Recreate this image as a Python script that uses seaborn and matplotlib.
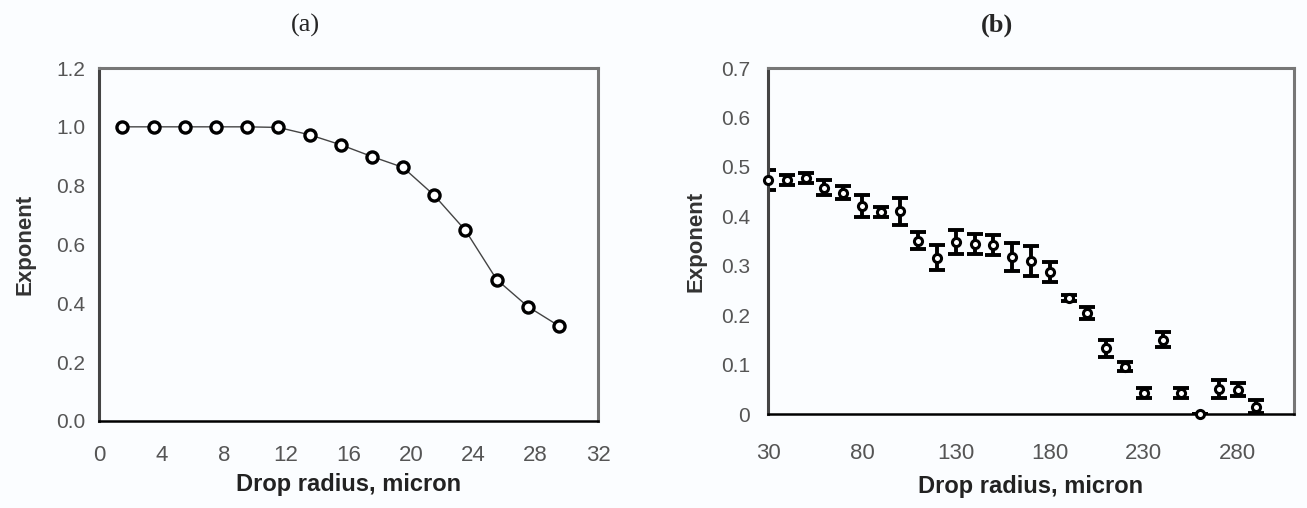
import matplotlib
matplotlib.use("Agg")
import matplotlib.pyplot as plt
import seaborn as sns
import pandas as pd
import numpy as np

# (a) exponent vs drop radius
radius_a = [1.5, 3.5, 5.5, 7.5, 9.5, 11.5, 13.5, 15.5, 17.5, 19.5, 21.5, 23.5, 25.5, 27.5, 29.5]
exponent_a = [1.0, 1.0, 1.0, 1.0, 1.0, 0.998, 0.973, 0.939, 0.899, 0.862, 0.767, 0.648, 0.481, 0.389, 0.323]

# (b) exponent with error bars
radius_b = [30, 40, 50, 60, 70, 80, 90, 100, 110, 120, 130, 140, 150, 160, 170, 180, 190,
            200, 210, 220, 230, 240, 250, 260, 270, 280, 290]
exponent_b = [0.474, 0.473, 0.477, 0.458, 0.448, 0.421, 0.409, 0.410, 0.351, 0.316, 0.348, 0.344,
              0.342, 0.318, 0.309, 0.288, 0.234, 0.204, 0.133, 0.096, 0.042, 0.150, 0.042, 0.0,
              0.050, 0.049, 0.015]
error_b = [0.02, 0.01, 0.01, 0.015, 0.014, 0.022, 0.01, 0.027, 0.017, 0.025, 0.025, 0.02,
           0.02, 0.028, 0.03, 0.02, 0.006, 0.012, 0.017, 0.01, 0.01, 0.015, 0.01, 0.0,
           0.018, 0.013, 0.013]

df_a = pd.DataFrame({"radius": radius_a, "exponent": exponent_a})
df_b = pd.DataFrame({"radius": radius_b, "exponent": exponent_b, "err": error_b})

sns.set_style("white")
plt.rcParams["font.family"] = ["Liberation Sans", "DejaVu Sans"]

W, H = 1307, 508
fig = plt.figure(figsize=(W / 100, H / 100), dpi=100)
fig.patch.set_facecolor("#fbfdff")
ax1 = fig.add_axes([99 / W, 1 - 421 / H, 499 / W, 353 / H])
ax2 = fig.add_axes([768 / W, 1 - 414 / H, 526 / W, 346 / H])

tick_color = "#555555"

# panel a
sns.lineplot(data=df_a, x="radius", y="exponent", ax=ax1, color="#444444", lw=1.0,
             marker="o", markersize=8, markerfacecolor="white", markeredgecolor="black",
             markeredgewidth=2.4)
ax1.set_xlim(0, 32)
ax1.set_ylim(0, 1.2)
ax1.set_xticks(np.arange(0, 33, 4))
ax1.set_xticks(np.arange(0, 33, 1), minor=True)
ax1.set_yticks(np.arange(0, 1.21, 0.2))
ax1.set_yticklabels([f"{v:.1f}" for v in np.arange(0, 1.21, 0.2)])
ax1.tick_params(axis="x", which="major", direction="inout", length=10, width=1.5, pad=12)
ax1.tick_params(axis="x", which="minor", direction="inout", length=5, width=0.8, colors="#555555")
ax1.tick_params(axis="y", direction="out", length=6, width=1.2, pad=4)
ax1.set_title("(a)", family="Liberation Serif", fontsize=19, x=0.413, pad=26)

# panel b
ax2.errorbar(df_b["radius"], df_b["exponent"], yerr=df_b["err"], fmt="none",
             ecolor="black", elinewidth=2.8, capsize=6, capthick=2.8, zorder=2)
sns.scatterplot(data=df_b, x="radius", y="exponent", ax=ax2, s=34, marker="o",
                facecolor="white", edgecolor="black", linewidth=2.2, zorder=3, clip_on=False)
ax2.set_xlim(30, 310)
ax2.set_ylim(0, 0.7)
ax2.set_xticks([30, 80, 130, 180, 230, 280])
ax2.set_yticks(np.arange(0, 0.71, 0.1))
ax2.set_yticklabels(["0"] + [f"{v:.1f}" for v in np.arange(0.1, 0.71, 0.1)])
ax2.tick_params(axis="x", direction="out", length=7, width=1.2, pad=14)
ax2.tick_params(axis="y", direction="out", length=8, width=1.2, pad=5)
ax2.set_title("(b)", family="Liberation Serif", fontsize=19, fontweight="bold", x=0.435, pad=26)

for ax, xpad, ypad in ((ax1, 5, 15), (ax2, 8, 10)):
    ax.set_facecolor("#fbfdff")
    ax.tick_params(axis="x", which="major", labelsize=16, labelcolor=tick_color)
    ax.tick_params(axis="y", labelsize=15, labelcolor=tick_color)
    ax.set_xlabel("Drop radius, micron", fontsize=17, fontweight="bold", color="#222222", labelpad=xpad)
    ax.set_ylabel("Exponent", fontsize=16, fontweight="bold", color="#333333", labelpad=ypad)
    ax.spines["left"].set_color("#444444")
    ax.spines["left"].set_linewidth(2.2)
    ax.spines["bottom"].set_color("black")
    ax.spines["bottom"].set_linewidth(1.8)
    for side in ("top", "right"):
        ax.spines[side].set_color("#777777")
        ax.spines[side].set_linewidth(2.2)

fig.savefig("out.png", dpi=100, facecolor=fig.get_facecolor())
